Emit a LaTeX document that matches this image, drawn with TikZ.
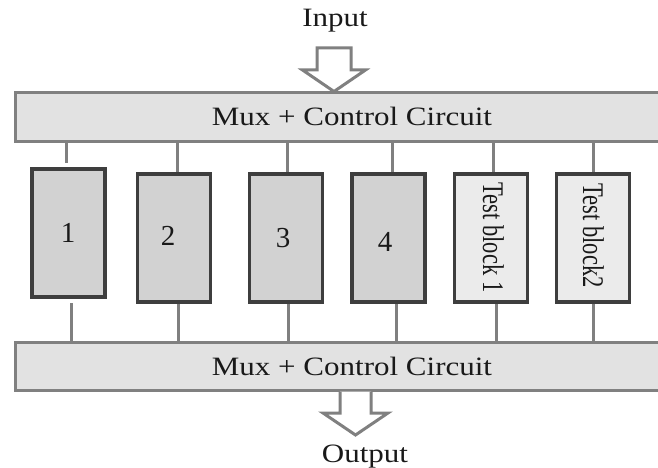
\documentclass[tikz,border=0pt]{standalone}
\usepackage{fontspec}
\setmainfont{Liberation Serif}
\newfontfamily\widefont[FakeStretch=1.17]{Liberation Serif}
\newfontfamily\narrowfont[FakeStretch=0.75]{Liberation Serif}
\definecolor{barfill}{RGB}{226,226,226}
\definecolor{barline}{RGB}{128,128,128}
\definecolor{blkfill}{RGB}{210,210,210}
\definecolor{tstfill}{RGB}{235,235,235}
\definecolor{blkline}{RGB}{62,62,62}
\definecolor{txt}{RGB}{25,25,25}
\begin{document}
\begin{tikzpicture}[x=1pt,y=-1pt,
  bar/.style={rectangle, draw=barline, line width=3pt, fill=barfill, inner sep=0pt, minimum width=660pt, minimum height=48pt},
  blk/.style={rectangle, draw=blkline, line width=3.5pt, fill=blkfill, inner sep=0pt, minimum width=73pt, minimum height=128pt},
  tst/.style={blk, fill=tstfill},
  conn/.style={draw=barline, line width=3pt},
  arr/.style={draw=barline, line width=3pt, fill=white, line join=miter},
  iotxt/.style={inner sep=0pt, text=txt, font=\widefont\fontsize{26.5}{30}\selectfont},
  digit/.style={inner sep=0pt, text=txt, font=\fontsize{29}{32}\selectfont},
  tsttxt/.style={inner sep=0pt, text=txt, rotate=-90, anchor=base, font=\narrowfont\fontsize{30}{34}\selectfont}]
\useasboundingbox (0,0) rectangle (658,468);
\clip (0,0) rectangle (658,468);

% bars
\node[bar] (topbar) at (345,117) {};
\node[bar] (botbar) at (345,366) {};

% blocks
\node[blk] (b1) at (68.5,233) {};
\node[blk] (b2) at (174,238) {};
\node[blk] (b3) at (286,238) {};
\node[blk] (b4) at (388.5,238) {};
\node[tst] (b5) at (491,238) {};
\node[tst] (b6) at (593,238) {};

% connectors
\foreach \x/\b/\s in {66/b1/4pt,177/b2/0pt,287/b3/0pt,392/b4/0pt,493/b5/0pt,593/b6/0pt}{
  \coordinate (t\b) at (\x,0);
  \draw[conn, shorten >=\s] (t\b |- topbar.south) -- (t\b |- \b.north);
}
\foreach \x/\b/\s in {71/b1/4pt,178/b2/0pt,288/b3/0pt,396/b4/0pt,496/b5/0pt,593/b6/0pt}{
  \coordinate (u\b) at (\x,0);
  \draw[conn, shorten >=\s] (u\b |- botbar.north) -- (u\b |- \b.south);
}

% block arrows
\coordinate (ia) at (334,48);
\draw[arr] (317,48) -- (351,48) -- (351,70) -- (365.5,70) -- (ia |- topbar.north) -- (302.5,70) -- (317,70) -- cycle;
\coordinate (oa) at (355.5,435);
\fill[white] (340,391.5) rectangle (371,413);
\draw[arr] (340,391.5) -- (340,413) -- (323,413) -- (oa) -- (388,413) -- (371,413) -- (371,391.5);

% texts
\node[iotxt, anchor=base] (intxt) at (335,27) {Input};
\node[iotxt, anchor=base] (outtxt) at (365,462) {Output};
\node[iotxt, anchor=base] (m1) at (352,125) {Mux + Control Circuit};
\node[iotxt, anchor=base] (m2) at (352,375) {Mux + Control Circuit};
\node[digit] (l1) at (68,233) {1};
\node[digit] (l2) at (168,236) {2};
\node[digit] (l3) at (283,238) {3};
\node[digit] (l4) at (385,242) {4};
\node[tsttxt] (l5) at (483,237.5) {Test block 1};
\node[tsttxt] (l6) at (583,235.5) {Test block2};
\end{tikzpicture}
\end{document}
